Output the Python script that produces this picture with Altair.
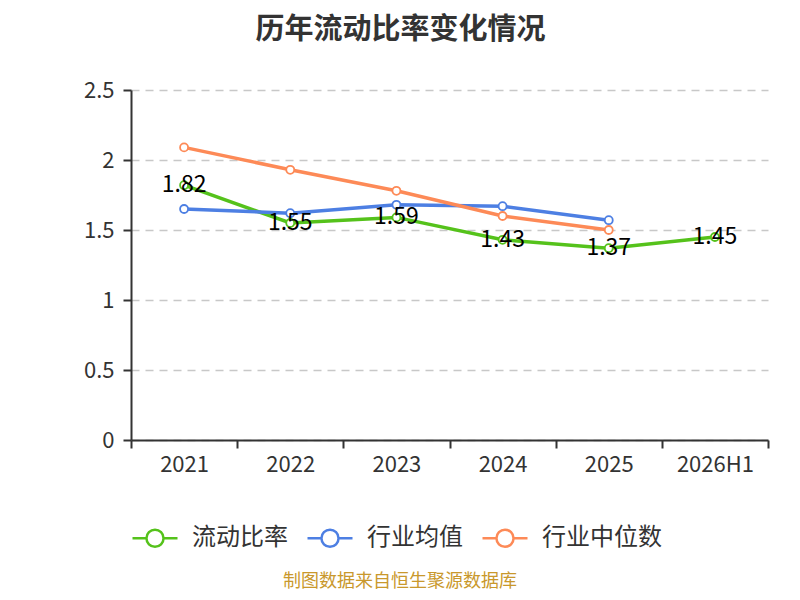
import altair as alt
import pandas as pd

years = ["2021", "2022", "2023", "2024", "2025", "2026H1"]
series_names = ["流动比率", "行业均值", "行业中位数"]
ratio = [1.82, 1.55, 1.59, 1.43, 1.37, 1.45]
ind_mean = [1.65, 1.62, 1.68, 1.67, 1.57]
ind_median = [2.09, 1.93, 1.78, 1.60, 1.50]
colors = ["#55c21b", "#4d7fe3", "#fd8a57"]

rows = []
for y, v in zip(years, ratio):
    rows.append({"year": y, "series": series_names[0], "value": v, "label": f"{v:.2f}"})
for y, v in zip(years, ind_mean):
    rows.append({"year": y, "series": series_names[1], "value": v, "label": ""})
for y, v in zip(years, ind_median):
    rows.append({"year": y, "series": series_names[2], "value": v, "label": ""})
df = pd.DataFrame(rows)

FONT = "Noto Sans CJK SC"
legend_path = "M-1,0L-0.38,0M0.38,0L1,0M0.38,0A0.38,0.38,0,1,1,-0.38,0A0.38,0.38,0,1,1,0.38,0"

x_enc = alt.X("year:N", sort=years, scale=alt.Scale(domain=years, paddingInner=0, paddingOuter=0),
              axis=alt.Axis(title=None, labelAngle=0, tickBand="extent", tickSize=8,
                            labelFontSize=22, labelColor="#333333", labelPadding=6,
                            domainColor="#333333", tickColor="#333333", domainWidth=2, tickWidth=2,
                            grid=False, labelFont=FONT))
y_enc = alt.Y("value:Q", scale=alt.Scale(domain=[0, 2.5], nice=False),
              axis=alt.Axis(title=None, values=[0, 0.5, 1, 1.5, 2, 2.5], format="~g",
                            labelFontSize=22, labelColor="#333333", labelPadding=9,
                            domainColor="#333333", tickColor="#333333", domainWidth=2, tickWidth=2,
                            tickSize=8, grid=True, gridDash=[8, 6], gridColor="#c8c8c8",
                            gridWidth=1.5, labelFont=FONT))
legend = alt.Legend(title=None, orient="none", legendX=0, legendY=424, direction="horizontal",
                    symbolType=legend_path, symbolSize=2025, symbolStrokeWidth=2.5,
                    labelFontSize=24, labelFont=FONT, labelColor="#333333",
                    labelOffset=13, columnPadding=14)
color_enc = alt.Color("series:N", scale=alt.Scale(domain=series_names, range=colors),
                      sort=series_names, legend=legend)

base = alt.Chart(df)
lines = base.mark_line(strokeWidth=3.5).encode(x=x_enc, y=y_enc, color=color_enc)
points = base.mark_point(filled=False, fill="white", fillOpacity=1, size=64, strokeWidth=1.8,
                         opacity=1).encode(x=x_enc, y=y_enc, color=color_enc)
labels = base.transform_filter(alt.datum.label != "").mark_text(
    fontSize=23, font=FONT, color="#000000", baseline="middle", align="center"
).encode(x=x_enc, y=y_enc, text="label:N")
source = alt.Chart(pd.DataFrame({"t": ["制图数据来自恒生聚源数据库"]})).mark_text(
    fontSize=18, font=FONT, color="#c9982c", baseline="bottom", align="center"
).encode(x=alt.value(269), y=alt.value(501), text="t:N")

chart = alt.layer(lines, points, labels, source).properties(
    width=637, height=350,
    title=alt.TitleParams("历年流动比率变化情况", fontSize=29, font=FONT, fontWeight="bold",
                          color="#333333", anchor="middle", dx=-49, offset=34),
    autosize=alt.AutoSizeParams(type="none"),
    padding={"left": 123, "top": 82, "right": 24, "bottom": 152},
).configure(background="white").configure_view(stroke=None)

chart.save("out.html", embed_options={"renderer": "svg", "actions": False})
